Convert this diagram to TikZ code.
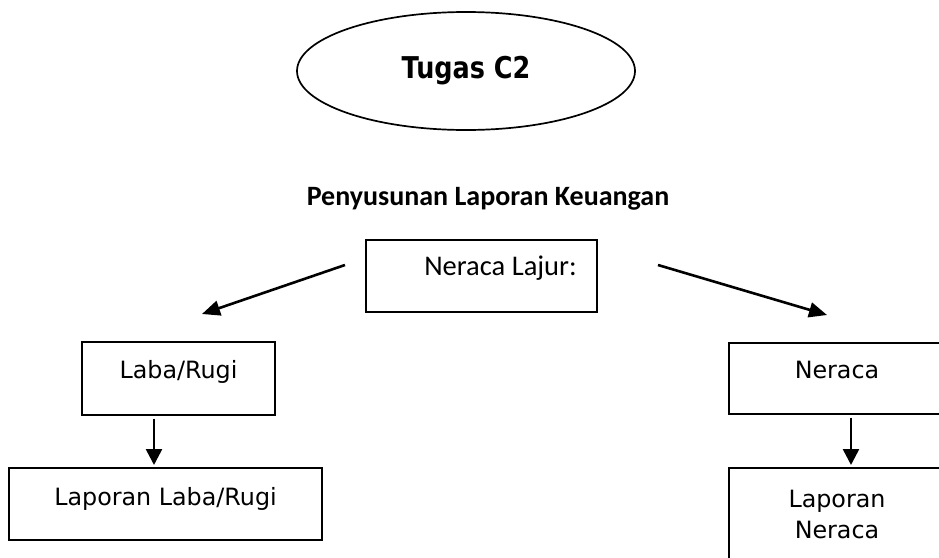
\documentclass[tikz,border=0pt]{standalone}
\usepackage{fontspec}
\setmainfont{DejaVu Sans}
\newfontfamily\carlitofont{Carlito}
\usetikzlibrary{arrows.meta,shapes.geometric}

\tikzset{
  boxnode/.style={draw, line width=1.6pt, inner sep=0pt, anchor=north,
                  font=\fontsize{23.8}{31}\selectfont},
  flowarrow/.style={line width=2.6pt, -{Triangle[length=18pt,width=15pt]}},
  downarrow/.style={line width=2.6pt, -{Triangle[length=16pt,width=16pt]},
                    shorten <=3pt, shorten >=2pt},
}

\begin{document}
\begin{tikzpicture}[x=1pt, y=-1pt]
  \useasboundingbox (0,0) rectangle (939,557);
  \clip (0,0) rectangle (939,557);

  % title ellipse
  \node[draw, ellipse, line width=1.7pt, minimum width=338pt, minimum height=118pt,
        inner sep=0pt, font=\fontsize{30}{36}\selectfont\bfseries]
        (tugas) at (466,71) {\scalebox{0.85}[1]{Tugas C2}};

  % heading
  \node[anchor=base, inner sep=0pt, font=\carlitofont\fontsize{28}{34}\selectfont\bfseries]
        (judul) at (488,205) {Penyusunan Laporan Keuangan};

  % worksheet box
  \node[boxnode, minimum width=231pt, text height=36pt, text depth=36pt,
        font=\carlitofont\fontsize{28.5}{34}\selectfont]
        (lajur) at (481.5,239) {\hspace*{38pt}Neraca Lajur:};

  % left branch
  \node[boxnode, minimum width=193pt, text height=37pt, text depth=36pt]
        (labarugi) at (178.5,341) {Laba/Rugi};
  \node[boxnode, minimum width=313pt, text height=38pt, text depth=34pt]
        (laplr) at (165.5,467) {Laporan Laba/Rugi};

  % right branch
  \node[boxnode, minimum width=216pt, text height=36pt, text depth=35pt]
        (neraca) at (837,342) {Neraca};
  \node[boxnode, text width=216pt, align=center, minimum height=93pt]
        (lapner) at (837,467) {Laporan\\Neraca};

  % free ends of the branch arrows
  \coordinate (lstart) at (345,265);
  \coordinate (lend)   at (202,314);
  \coordinate (rstart) at (658,265);
  \coordinate (rend)   at (827,315);
  % vertical lines of the down arrows
  \coordinate (lcol) at (154,0);
  \coordinate (rcol) at (851,0);

  \draw[flowarrow] (lstart) -- (lend);
  \draw[flowarrow] (rstart) -- (rend);
  \draw[downarrow] (labarugi.south -| lcol) -- (laplr.north -| lcol);
  \draw[downarrow] (neraca.south -| rcol) -- (lapner.north -| rcol);
\end{tikzpicture}
\end{document}
